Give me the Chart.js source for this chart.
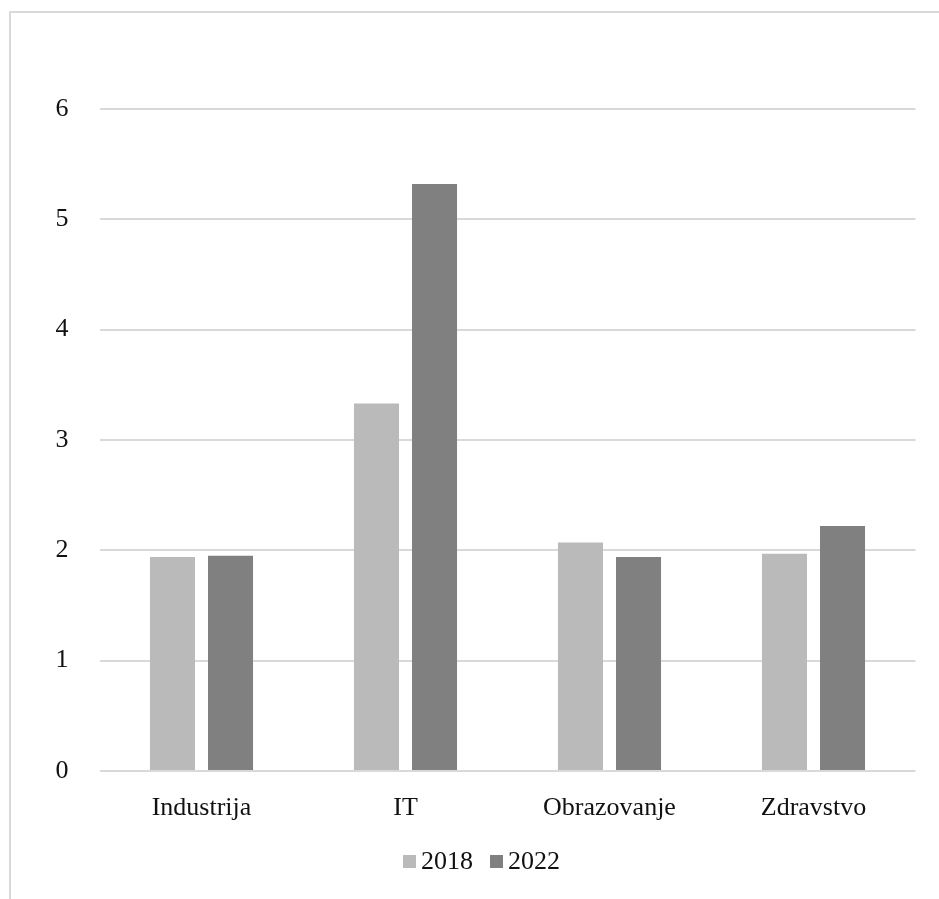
<!DOCTYPE html>
<html>
<head>
<meta charset="utf-8">
<script src="https://cdn.jsdelivr.net/npm/chart.js@4/dist/chart.umd.min.js"></script>
<style>
  html, body { margin: 0; padding: 0; background: #fff; overflow: hidden; }
  #frame { position: absolute; left: 9px; top: 11px; width: 1000px; height: 1000px;
           border-left: 2px solid #d9d9d9; border-top: 2px solid #d9d9d9; }
  #wrap { position: absolute; left: 0; top: 0; width: 939px; height: 899px; }
</style>
</head>
<body>
<div id="frame"></div>
<div id="wrap"><canvas id="c"></canvas></div>
<script>
// Sectors and yearly values
const categories = ['Industrija', 'IT', 'Obrazovanje', 'Zdravstvo'];
const values2018 = [1.94, 3.33, 2.07, 1.97];
const values2022 = [1.95, 5.32, 1.94, 2.22];
const seriesLabels = ['2018', '2022'];
const yTicks = [0, 1, 2, 3, 4, 5, 6];

const FONT = '"Liberation Serif", "Times New Roman", serif';
const colors = ['#bababa', '#808080'];

// Legend drawn below the axis: small square, short gap, label
const bottomLegend = {
  id: 'bottomLegend',
  afterDraw(chart) {
    const ctx = chart.ctx;
    const box = 13, gap = 5, between = 17;
    ctx.save();
    ctx.font = '26px ' + FONT;
    const items = chart.data.datasets.map(ds => ({
      text: ds.label, color: ds.backgroundColor, w: ctx.measureText(ds.label).width
    }));
    const total = items.reduce((s, it) => s + box + gap + it.w, 0) + between * (items.length - 1);
    let x = 481.5 - total / 2;
    const baseline = 869;
    items.forEach(it => {
      ctx.fillStyle = it.color;
      ctx.fillRect(x, baseline - 14, box, box);
      x += box + gap;
      ctx.fillStyle = '#111';
      ctx.textBaseline = 'alphabetic';
      ctx.textAlign = 'left';
      ctx.fillText(it.text, x, baseline);
      x += it.w + between;
    });
    ctx.restore();
  }
};

new Chart(document.getElementById('c'), {
  type: 'bar',
  data: {
    labels: categories,
    datasets: [
      { label: seriesLabels[0], data: values2018, backgroundColor: colors[0] },
      { label: seriesLabels[1], data: values2022, backgroundColor: colors[1] }
    ]
  },
  options: {
    responsive: true,
    maintainAspectRatio: false,
    animation: false,
    layout: { padding: { left: 0, right: 23.5, top: 109, bottom: 0 } },
    datasets: { bar: { categoryPercentage: 0.569, barPercentage: 0.776, borderWidth: 0 } },
    plugins: { legend: { display: false }, tooltip: { enabled: false } },
    scales: {
      x: {
        grid: { display: false },
        border: { display: false },
        ticks: { font: { family: FONT, size: 26 }, color: '#111', padding: 14, maxRotation: 0 },
        afterFit(scale) { scale.height = 128; }
      },
      y: {
        min: 0, max: 6,
        afterBuildTicks(scale) { scale.ticks = yTicks.map(v => ({ value: v })); },
        grid: { color: '#d9d9d9', lineWidth: 2, drawTicks: false },
        border: { display: false },
        ticks: { font: { family: FONT, size: 26 }, color: '#111', padding: 31 },
        afterFit(scale) { scale.width = 99.5; }
      }
    }
  },
  plugins: [bottomLegend]
});
</script>
</body>
</html>
